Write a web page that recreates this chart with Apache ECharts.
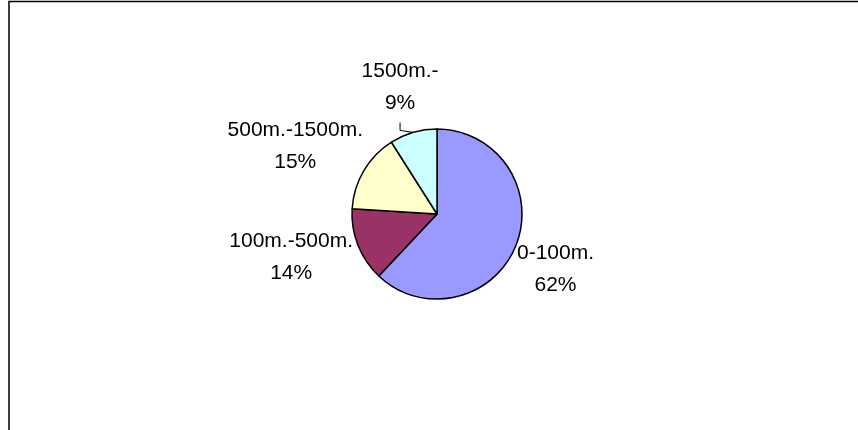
<!DOCTYPE html>
<html>
<head>
<meta charset="utf-8">
<script src="https://cdn.jsdelivr.net/npm/echarts@6/dist/echarts.min.js"></script>
<style>
  html, body { margin: 0; padding: 0; background: #ffffff; }
  #chart { width: 858px; height: 430px; }
</style>
</head>
<body>
<div id="chart"></div>
<script>
// Distance bands and their share of the total (%)
const categories = ['0-100m.', '100m.-500m.', '500m.-1500m.', '1500m.-'];
const shares = [62, 14, 15, 9];
const sliceColors = ['#9999FF', '#993366', '#FFFFCC', '#CCFFFF'];

// Pie geometry and label styling
const PIE_CX = 437, PIE_CY = 214, PIE_R = 85;
const FONT_SIZE = 21, LINE_H = 32;
const GLYPH_H = LINE_H + FONT_SIZE * 0.72;   // top of first line to baseline of second
const LABEL_GAP = 1;                         // label corner distance from the rim
const LEADER_GAP = 14;                       // extra room for labels with a leader line
const LEADER_BELOW = 10;                     // slices under this share get a leader line
// hand-placed label adjustments (px), keyed by category
const labelNudge = { '100m.-500m.': [-4, -12] };

const total = shares.reduce((a, b) => a + b, 0);

// Unit vector of a slice's mid-angle (clockwise from 12 o'clock, screen coords)
function midDir(i) {
  let before = 0;
  for (let k = 0; k < i; k++) before += shares[k];
  const a = (before + shares[i] / 2) / total * Math.PI * 2;
  return [Math.sin(a), -Math.cos(a)];
}

const chart = echarts.init(document.getElementById('chart'), null, { renderer: 'canvas' });

chart.setOption({
  animation: false,
  backgroundColor: '#ffffff',
  graphic: [{
    type: 'rect',
    silent: true,
    shape: { x: 9, y: 1.5, width: 900, height: 500 },
    style: { fill: 'none', stroke: '#000000', lineWidth: 1.5 }
  }],
  series: [{
    type: 'pie',
    center: [PIE_CX, PIE_CY],
    radius: PIE_R,
    startAngle: 90,
    clockwise: true,
    avoidLabelOverlap: false,
    emphasis: { disabled: true },
    itemStyle: { borderColor: '#000000', borderWidth: 1.5 },
    label: {
      show: true,
      position: 'outside',
      alignTo: 'none',
      color: '#000000',
      fontFamily: '"Liberation Sans", Arial, sans-serif',
      fontSize: FONT_SIZE,
      lineHeight: LINE_H,
      formatter: p => p.name + '\n' + Math.round(p.percent) + '%'
    },
    labelLine: { show: false },
    data: categories.map((name, i) => ({
      name: name,
      value: shares[i],
      itemStyle: { color: sliceColors[i] },
      labelLine: {
        show: shares[i] < LEADER_BELOW,
        smooth: false,
        lineStyle: { color: '#000000', width: 1 }
      }
    })),
    labelLayout: function (p) {
      const i = p.dataIndex;
      const d = midDir(i);
      const dx = d[0], dy = d[1];
      const w = p.labelRect.width, h = GLYPH_H;
      let x, y, line;
      if (shares[i] < LEADER_BELOW) {
        const dist = PIE_R + LEADER_GAP + Math.abs(dx) * w / 2 + Math.abs(dy) * h / 2;
        x = PIE_CX + dist * dx;
        y = PIE_CY + dist * dy;
        const ex = PIE_CX + PIE_R * dx, ey = PIE_CY + PIE_R * dy;
        line = [[ex, ey], [x, ey - 2], [x, y + h / 2 + 12]];
      } else {
        const px = PIE_CX + (PIE_R + LABEL_GAP) * dx;
        const py = PIE_CY + (PIE_R + LABEL_GAP) * dy;
        x = px + Math.sign(dx) * w / 2;
        y = py + Math.sign(dy) * h / 2;
        const n = labelNudge[categories[i]];
        if (n) { x += n[0]; y += n[1]; }
      }
      const out = { x: x, y: y, align: 'center', verticalAlign: 'middle' };
      if (line) out.labelLinePoints = line;
      return out;
    }
  }]
});
</script>
</body>
</html>
